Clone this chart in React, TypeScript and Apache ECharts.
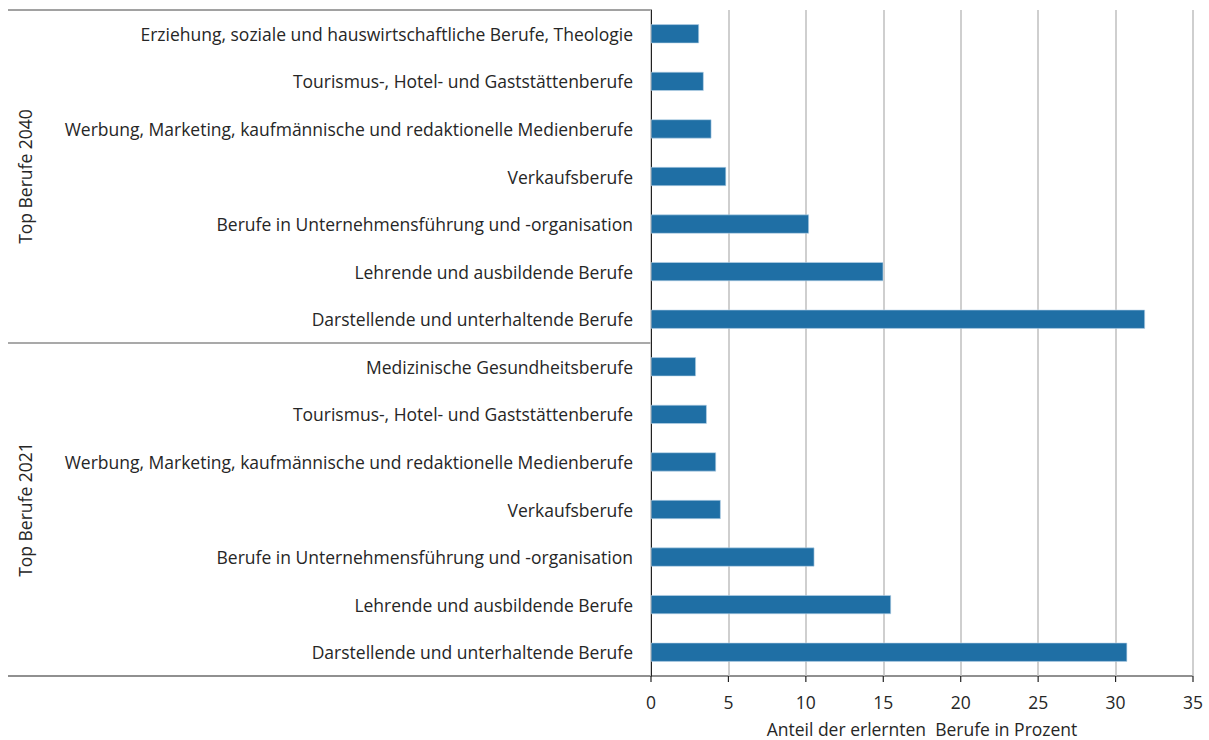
import React, { useEffect, useRef } from "react";
import * as echarts from "echarts";

const labels2040 = [
  "Erziehung, soziale und hauswirtschaftliche Berufe, Theologie",
  "Tourismus-, Hotel- und Gaststättenberufe",
  "Werbung, Marketing, kaufmännische und redaktionelle Medienberufe",
  "Verkaufsberufe",
  "Berufe in Unternehmensführung und -organisation",
  "Lehrende und ausbildende Berufe",
  "Darstellende und unterhaltende Berufe",
];
const values2040 = [3.1, 3.4, 3.9, 4.85, 10.2, 15.0, 31.9];

const labels2021 = [
  "Medizinische Gesundheitsberufe",
  "Tourismus-, Hotel- und Gaststättenberufe",
  "Werbung, Marketing, kaufmännische und redaktionelle Medienberufe",
  "Verkaufsberufe",
  "Berufe in Unternehmensführung und -organisation",
  "Lehrende und ausbildende Berufe",
  "Darstellende und unterhaltende Berufe",
];
const values2021 = [2.9, 3.6, 4.2, 4.5, 10.55, 15.5, 30.75];

const groupNames = ["Top Berufe 2040", "Top Berufe 2021"];
const xTicks = { min: 0, max: 35, interval: 5 };
const axisTitle = "Anteil der erlernten  Berufe in Prozent";

const FONT = "'Open Sans', sans-serif";
const FS = 17.5;
const TXT = "#262626";

export default function App() {
  const ref = useRef<HTMLDivElement>(null);
  useEffect(() => {
    document.body.style.margin = "0";
    if (!ref.current) return;
    const chart = echarts.init(ref.current, null, { renderer: "svg" });
    const cats = [
      ...labels2040.map((l, i) => `a${i}|${l}`),
      ...labels2021.map((l, i) => `b${i}|${l}`),
    ];
    const vals = [...values2040, ...values2021];
    const gridLeft = 651;
    const gridTop = 10;
    const gridBottom = 64;
    const W = 1209;
    const H = 740;
    const plotH = H - gridTop - gridBottom;
    const midY = gridTop + plotH / 2;
    chart.setOption({
      animation: false,
      textStyle: { fontFamily: FONT },
      grid: {
        left: gridLeft,
        right: 16,
        top: gridTop,
        bottom: gridBottom,
        containLabel: false,
        outerBoundsMode: "none",
      },
      xAxis: {
        type: "value",
        min: xTicks.min,
        max: xTicks.max,
        interval: xTicks.interval,
        axisLine: { show: false },
        axisTick: { show: false },
        splitLine: { show: true, lineStyle: { color: "#bfbfbf", width: 1.5 } },
        axisLabel: { fontSize: FS, color: TXT, margin: 17, fontFamily: FONT },
        name: axisTitle,
        nameLocation: "middle",
        nameGap: 44,
        nameTextStyle: { fontSize: FS, lineHeight: 18, color: TXT, fontFamily: FONT },
      },
      yAxis: {
        type: "category",
        inverse: true,
        data: cats,
        axisLine: { show: true, lineStyle: { color: "#222", width: 1 } },
        axisTick: { show: false },
        axisLabel: {
          fontSize: FS,
          color: TXT,
          margin: 18,
          fontFamily: FONT,
          formatter: (v: string) => v.split("|")[1],
        },
      },
      series: [
        {
          type: "bar",
          data: vals,
          barWidth: 19,
          itemStyle: { color: "#1f6fa5", borderColor: "#bcd5ea", borderWidth: 0.6 },
        },
      ],
      graphic: [
        {
          type: "line",
          shape: { x1: 8, y1: gridTop, x2: gridLeft, y2: gridTop },
          style: { stroke: "#444", lineWidth: 1 },
        },
        {
          type: "line",
          shape: { x1: 8, y1: midY, x2: gridLeft, y2: midY },
          style: { stroke: "#555", lineWidth: 1.2 },
        },
        {
          type: "line",
          shape: { x1: 8, y1: H - gridBottom, x2: W - 16, y2: H - gridBottom },
          style: { stroke: "#222", lineWidth: 1.2 },
        },
        ...Array.from({ length: 8 }, (_, i) => {
          const x = gridLeft + ((W - 16 - gridLeft) * i) / 7;
          return {
            type: "line",
            shape: { x1: x, y1: H - gridBottom, x2: x, y2: H - gridBottom + 6 },
            style: { stroke: "#222", lineWidth: 1.2 },
          };
        }),
        {
          type: "text",
          x: 25,
          y: gridTop + plotH / 4,
          rotation: Math.PI / 2,
          style: {
            text: groupNames[0],
            fontSize: FS,
            fill: TXT,
            fontFamily: FONT,
            align: "center",
            verticalAlign: "middle",
          },
        },
        {
          type: "text",
          x: 25,
          y: gridTop + (plotH * 3) / 4,
          rotation: Math.PI / 2,
          style: {
            text: groupNames[1],
            fontSize: FS,
            fill: TXT,
            fontFamily: FONT,
            align: "center",
            verticalAlign: "middle",
          },
        },
      ],
    });
    return () => chart.dispose();
  }, []);
  return <div ref={ref} style={{ width: 1209, height: 740 }} />;
}
